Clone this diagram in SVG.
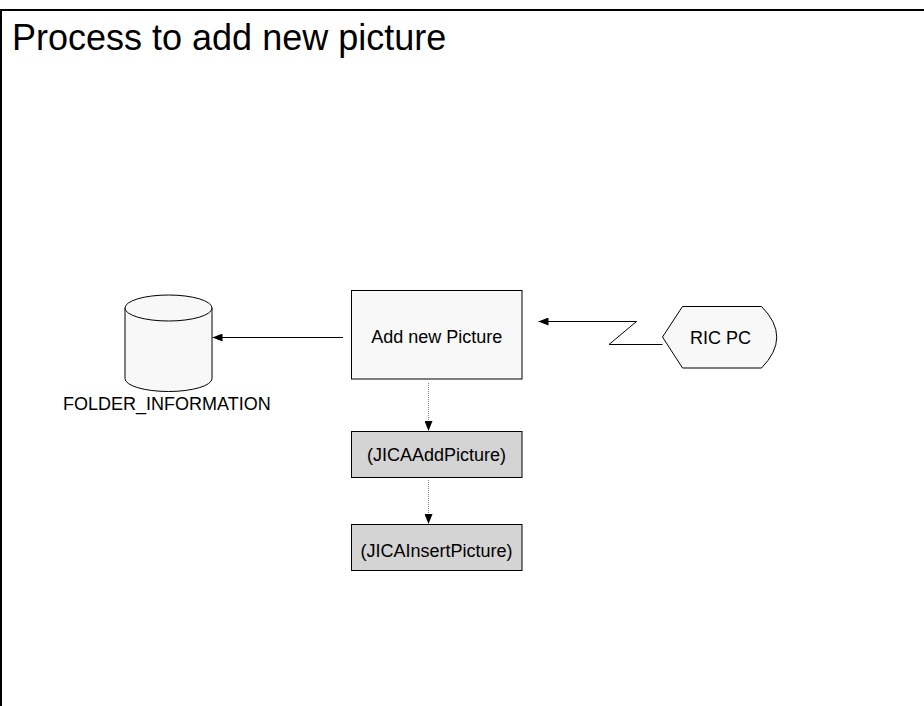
<svg xmlns="http://www.w3.org/2000/svg" width="924" height="706" viewBox="0 0 924 706">
<style>
text{font-family:"Liberation Sans",Arial,sans-serif;fill:#000}
.lbl{font-size:18px}
.node{fill:#f8f8f8;stroke:#000;stroke-width:1}
.proc{fill:#d4d4d4;stroke:#000;stroke-width:1}
.solid{fill:none;stroke:#000;stroke-width:1}
.dot{fill:none;stroke:#888;stroke-width:1;stroke-dasharray:1 1}
</style>
<defs>
<marker id="ah" viewBox="0 0 10 8" refX="10" refY="4" markerWidth="10" markerHeight="8" markerUnits="userSpaceOnUse" orient="auto">
<path d="M0,0 L10,4 L0,8 Z" fill="#000"/>
</marker>
</defs>
<rect width="924" height="706" fill="#fff"/>
<g id="frame">
<line x1="0" y1="10" x2="924" y2="10" stroke="#000" stroke-width="2"/>
<line x1="1" y1="10" x2="1" y2="706" stroke="#000" stroke-width="2"/>
<text x="12" y="50" font-size="36">Process to add new picture</text>
</g>
<g id="connectors">
<line class="solid" x1="343" y1="337.5" x2="212.5" y2="337.5" marker-end="url(#ah)"/>
<polyline class="solid" points="662.5,344.5 609,344.5 636.5,321.5 538.5,321.5" marker-end="url(#ah)"/>
<line class="dot" x1="428.5" y1="383" x2="428.5" y2="431" marker-end="url(#ah)"/>
<line class="dot" x1="428.5" y1="480" x2="428.5" y2="524" marker-end="url(#ah)"/>
</g>
<g id="folder_information">
<path class="node" d="M125,308 L125,378.5 A43.5,13 0 0 0 212,378.5 L212,308 A43.5,13 0 0 0 125,308 Z"/>
<path class="node" d="M125,308 A43.5,13 0 0 0 212,308"/>
<text class="lbl" x="63" y="410">FOLDER_INFORMATION</text>
</g>
<g id="add_new_picture">
<rect class="node" x="351.5" y="290.5" width="170.5" height="88.5"/>
<text class="lbl" x="436.7" y="343" text-anchor="middle">Add new Picture</text>
</g>
<g id="ric_pc">
<path class="node" d="M662.5,337 L682.5,306.5 L761.5,306.5 Q792,337 761.5,368 L682.5,368 Z"/>
<text class="lbl" x="720.5" y="344" text-anchor="middle">RIC PC</text>
</g>
<g id="jica_add_picture">
<rect class="proc" x="351.5" y="431.5" width="170.5" height="46"/>
<text class="lbl" x="436.5" y="460.5" text-anchor="middle">(JICAAddPicture)</text>
</g>
<g id="jica_insert_picture">
<rect class="proc" x="351.5" y="524.5" width="170.5" height="46"/>
<text class="lbl" x="436.5" y="557" text-anchor="middle">(JICAInsertPicture)</text>
</g>
</svg>
